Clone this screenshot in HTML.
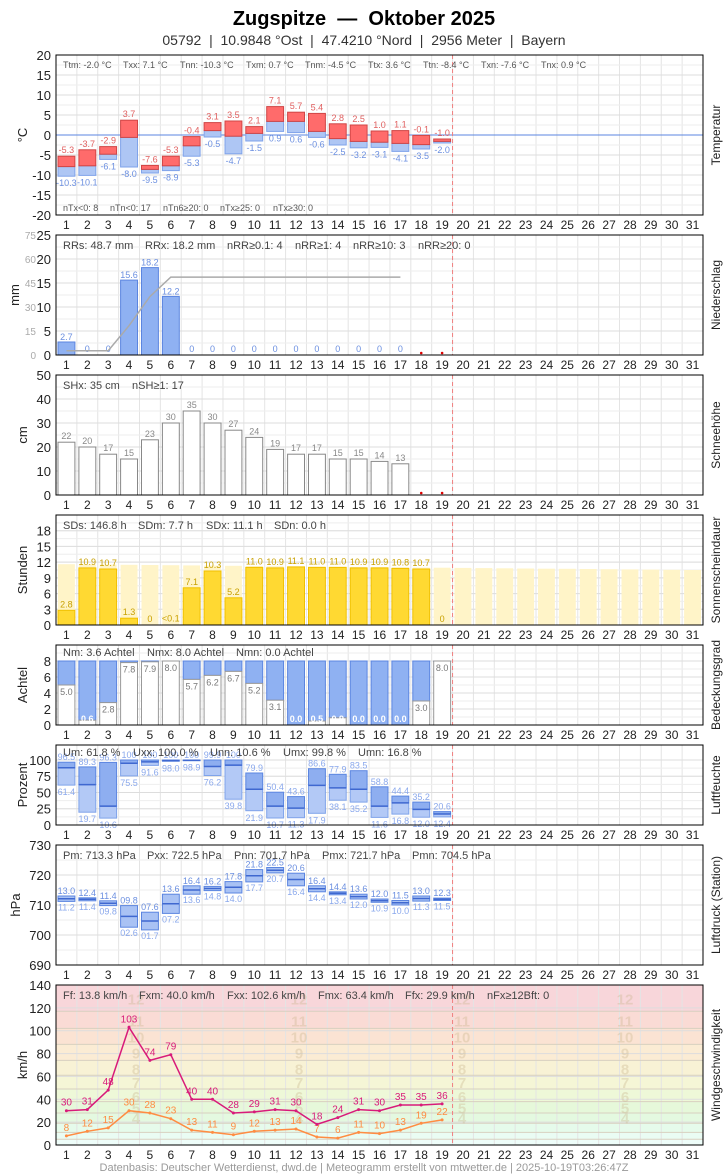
<!DOCTYPE html>
<html><head><meta charset="utf-8">
<style>
html,body{margin:0;padding:0;background:#fff;}
svg{display:block;font-family:"Liberation Sans",sans-serif;}
</style></head>
<body>
<svg id="c" width="728" height="1175" xmlns="http://www.w3.org/2000/svg">
<text x="364" y="25" text-anchor="middle" font-size="20" font-weight="bold" fill="#000">Zugspitze&#160;&#160;—&#160;&#160;Oktober 2025</text>
<text x="364" y="45" text-anchor="middle" font-size="14" fill="#333">05792&#160;&#160;|&#160;&#160;10.9848 °Ost&#160;&#160;|&#160;&#160;47.4210 °Nord&#160;&#160;|&#160;&#160;2956 Meter&#160;&#160;|&#160;&#160;Bayern</text>
<g id="g"></g>
<g font-size="9" fill="#555">
<text x="63" y="68">Ttm: -2.0 °C</text><text x="123" y="68">Txx: 7.1 °C</text><text x="180" y="68">Tnn: -10.3 °C</text><text x="246" y="68">Txm: 0.7 °C</text><text x="305" y="68">Tnm: -4.5 °C</text><text x="368" y="68">Ttx: 3.6 °C</text><text x="423" y="68">Ttn: -8.4 °C</text><text x="481" y="68">Txn: -7.6 °C</text><text x="541" y="68">Tnx: 0.9 °C</text>
<text x="63" y="211">nTx&lt;0: 8</text><text x="110" y="211">nTn&lt;0: 17</text><text x="163" y="211">nTn6≥20: 0</text><text x="220" y="211">nTx≥25: 0</text><text x="273" y="211">nTx≥30: 0</text>
</g>
<g font-size="11" fill="#444">
<text x="63" y="249">RRs: 48.7 mm</text><text x="145" y="249">RRx: 18.2 mm</text><text x="227" y="249">nRR≥0.1: 4</text><text x="295" y="249">nRR≥1: 4</text><text x="353" y="249">nRR≥10: 3</text><text x="418" y="249">nRR≥20: 0</text>
<text x="63" y="389">SHx: 35 cm</text><text x="132" y="389">nSH≥1: 17</text>
<text x="63" y="529">SDs: 146.8 h</text><text x="138" y="529">SDm: 7.7 h</text><text x="206" y="529">SDx: 11.1 h</text><text x="274" y="529">SDn: 0.0 h</text>
<text x="63" y="656">Nm: 3.6 Achtel</text><text x="147" y="656">Nmx: 8.0 Achtel</text><text x="236" y="656">Nmn: 0.0 Achtel</text>
<text x="63" y="756">Um: 61.8 %</text><text x="133" y="756">Uxx: 100.0 %</text><text x="210" y="756">Unn: 10.6 %</text><text x="283" y="756">Umx: 99.8 %</text><text x="358" y="756">Umn: 16.8 %</text>
<text x="63" y="859">Pm: 713.3 hPa</text><text x="147" y="859">Pxx: 722.5 hPa</text><text x="234" y="859">Pnn: 701.7 hPa</text><text x="322" y="859">Pmx: 721.7 hPa</text><text x="412" y="859">Pmn: 704.5 hPa</text>
<text x="63" y="999">Ff: 13.8 km/h</text><text x="139" y="999">Fxm: 40.0 km/h</text><text x="227" y="999">Fxx: 102.6 km/h</text><text x="318" y="999">Fmx: 63.4 km/h</text><text x="405" y="999">Ffx: 29.9 km/h</text><text x="487" y="999">nFx≥12Bft: 0</text>
</g>
<g font-size="13" fill="#222">
<text transform="translate(27,135) rotate(-90)" text-anchor="middle">°C</text>
<text transform="translate(19,295) rotate(-90)" text-anchor="middle">mm</text>
<text transform="translate(27,435) rotate(-90)" text-anchor="middle">cm</text>
<text transform="translate(27,570) rotate(-90)" text-anchor="middle">Stunden</text>
<text transform="translate(27,685) rotate(-90)" text-anchor="middle">Achtel</text>
<text transform="translate(27,785) rotate(-90)" text-anchor="middle">Prozent</text>
<text transform="translate(20,905) rotate(-90)" text-anchor="middle">hPa</text>
<text transform="translate(27,1065) rotate(-90)" text-anchor="middle">km/h</text>
<g font-size="12">
<text transform="translate(720,135) rotate(-90)" text-anchor="middle">Temperatur</text>
<text transform="translate(720,295) rotate(-90)" text-anchor="middle">Niederschlag</text>
<text transform="translate(720,435) rotate(-90)" text-anchor="middle">Schneehöhe</text>
<text transform="translate(720,570) rotate(-90)" text-anchor="middle">Sonnenscheindauer</text>
<text transform="translate(720,685) rotate(-90)" text-anchor="middle">Bedeckungsgrad</text>
<text transform="translate(720,785) rotate(-90)" text-anchor="middle">Luftfeuchte</text>
<text transform="translate(720,905) rotate(-90)" text-anchor="middle">Luftdruck (Station)</text>
<text transform="translate(720,1065) rotate(-90)" text-anchor="middle">Windgeschwindigkeit</text>
</g></g>
<text x="364" y="1171" text-anchor="middle" font-size="11" fill="#999">Datenbasis: Deutscher Wetterdienst, dwd.de | Meteogramm erstellt von mtwetter.de | 2025-10-19T03:26:47Z</text>
</svg>
<script>
var X0=56,W=647,DW=W/31,s='';
function R(x,y,w,h,f,st,sw){if(h<0){y+=h;h=-h;}s+='<rect x="'+x.toFixed(1)+'" y="'+y.toFixed(1)+'" width="'+w.toFixed(1)+'" height="'+Math.max(h,0.5).toFixed(1)+'" fill="'+f+'" stroke="'+(st||'none')+'" stroke-width="'+(sw||1)+'"/>';}
function L(x1,y1,x2,y2,c,w,d){s+='<line x1="'+x1+'" y1="'+y1+'" x2="'+x2+'" y2="'+y2+'" stroke="'+c+'" stroke-width="'+(w||1)+'"'+(d?' stroke-dasharray="'+d+'"':'')+'/>';}
function T(x,y,t,c,fs,a,fw){s+='<text x="'+x.toFixed(1)+'" y="'+y.toFixed(1)+'" fill="'+c+'" font-size="'+fs+'" text-anchor="'+(a||'middle')+'"'+(fw?' font-weight="bold"':'')+'>'+t+'</text>';}
function cx(i){return X0+(i+0.5)*DW;}
function bl(i){return X0+i*DW+2;}
var BW=DW-4;
function P(top,bot,mn,mx){return {top:top,bot:bot,mn:mn,mx:mx,y:function(v){return bot-(v-mn)/(mx-mn)*(bot-top);}};}
function frame(p,ticks,minor,labels){
  for(var i=0;i<=31;i++)L(X0+i*DW,p.top,X0+i*DW,p.bot,'#e4e4e4',1);
  minor.forEach(function(v){L(X0,p.y(v),X0+W,p.y(v),'#eeeeee',1);});
  ticks.forEach(function(v){L(X0,p.y(v),X0+W,p.y(v),'#dddddd',1);T(51,p.y(v)+5,v,'#222',13,'end');});
  if(labels!==false)for(var i=0;i<31;i++)T(cx(i),p.bot+14,i+1,'#222',12);
}
function box(p){L(X0+19*DW,p.top,X0+19*DW,p.bot,'#f08080',1,'4,3');s+='<rect x="'+X0+'" y="'+p.top+'" width="'+W+'" height="'+(p.bot-p.top)+'" fill="none" stroke="#000" stroke-width="1"/>';}
function rng(a,b,st){var r=[];for(var v=a;v<=b+1e-9;v+=st)r.push(Math.round(v*100)/100);return r;}
var p=P(55,215,-20,20);frame(p,rng(-20,20,5),rng(-20,20,2.5));
var tx=[-5.3,-3.7,-2.9,3.7,-7.6,-5.3,-0.4,3.1,3.5,2.1,7.1,5.7,5.4,2.8,2.5,1.0,1.1,-0.1,-1.0];
var tn=[-10.3,-10.1,-6.1,-8.0,-9.5,-8.9,-5.3,-0.5,-4.7,-1.5,0.9,0.6,-0.6,-2.5,-3.2,-3.1,-4.1,-3.5,-2.0];
var tm=[-7.9,-7.7,-4.8,-0.6,-8.6,-7.7,-2.7,1.1,-0.3,0.4,3.4,3.4,0.9,-0.9,-1.6,-1.8,-2.1,-2.4,-1.6];
L(X0,p.y(0),X0+W,p.y(0),'#5b86e0',1);
for(var i=0;i<19;i++){R(bl(i),p.y(tm[i]),BW,p.y(tn[i])-p.y(tm[i]),'#aec6f4','#7fa3ea');R(bl(i),p.y(tx[i]),BW,p.y(tm[i])-p.y(tx[i]),'#ff6b6b','#d04545');
T(cx(i),p.y(tx[i])-3,tx[i].toFixed(1),'#e06060',9);T(cx(i),p.y(tn[i])+10,tn[i].toFixed(1),'#6b8fe0',9);}
box(p);
p=P(235,355,0,25);frame(p,rng(0,25,5),rng(0,25,2.5));
[0,15,30,45,60,75].forEach(function(v){T(36,p.y(v/3)+4,v,'#aaa',10,'end');});
var rr=[2.7,0,0,15.6,18.2,12.2,0,0,0,0,0,0,0,0,0,0,0];
var cum=0,pts=[];
for(var i=0;i<17;i++){cum+=rr[i];pts.push(cx(i).toFixed(1)+','+p.y(cum/3).toFixed(1));
 if(rr[i]>0)R(bl(i),p.y(rr[i]),BW,p.bot-p.y(rr[i]),'#8fb1f2','#5b85e0');
 T(cx(i),(rr[i]>0?p.y(rr[i])-2:p.bot-3),rr[i]==0?'0':rr[i].toFixed(1),'#6b8fe0',9);}
s+='<polyline points="'+pts.join(' ')+'" fill="none" stroke="#aaa" stroke-width="1.5"/>';
s+='<circle cx="'+cx(17)+'" cy="353" r="1.3" fill="#d00"/><circle cx="'+cx(18)+'" cy="353" r="1.3" fill="#d00"/>';
box(p);
p=P(375,495,0,50);frame(p,rng(0,50,10),rng(0,50,5));
var sh=[22,20,17,15,23,30,35,30,27,24,19,17,17,15,15,14,13];
for(var i=0;i<17;i++){R(bl(i),p.y(sh[i]),BW,p.bot-p.y(sh[i]),'#fff','#888');T(cx(i),p.y(sh[i])-3,sh[i],'#888',9);}
s+='<circle cx="'+cx(17)+'" cy="493" r="1.3" fill="#d00"/><circle cx="'+cx(18)+'" cy="493" r="1.3" fill="#d00"/>';
box(p);
p=P(515,625,0,21);frame(p,rng(0,18,3),rng(0,21,1.5));
for(var i=0;i<31;i++){var h=11.6-i*1.1/30;R(bl(i),p.y(h),BW,p.bot-p.y(h),'#fff4c8');}
var sd=[2.8,10.9,10.7,1.3,0,0.05,7.1,10.3,5.2,11.0,10.9,11.1,11.0,11.0,10.9,10.9,10.8,10.7,0];
for(var i=0;i<19;i++){if(sd[i]>0.06)R(bl(i),p.y(sd[i]),BW,p.bot-p.y(sd[i]),'#ffd932','#f0c000');
T(cx(i),p.y(sd[i])-3,i==5?'&lt;0.1':(sd[i]==0?'0':sd[i].toFixed(1)),'#c8a000',9);}
box(p);
p=P(645,725,0,10);frame(p,rng(0,8,2),rng(0,10,1));
var nn=[5.0,0.6,2.8,7.8,7.9,8.0,5.7,6.2,6.7,5.2,3.1,0.0,0.5,0.9,0.0,0.0,0.0,3.0,8.0];
for(var i=0;i<19;i++){R(bl(i),p.y(8),BW,p.y(nn[i])-p.y(8),'#8fb1f2','#5b85e0');if(nn[i]>0)R(bl(i),p.y(nn[i]),BW,p.bot-p.y(nn[i]),'#fff','#999');
if(nn[i]<1)T(cx(i),p.bot-3,nn[i].toFixed(1),'#fff',9,'middle',1);else T(cx(i),p.y(nn[i])+10,nn[i].toFixed(1),'#777',9);}
box(p);
p=P(745,825,0,123);frame(p,rng(0,100,25),rng(0,100,12.5));
var ux=[96.5,89.3,96.3,100,100,100,100,99.9,100,79.9,50.4,43.6,86.6,77.9,83.5,58.8,44.4,35.2,20.6];
var un=[61.4,19.7,10.6,75.5,91.6,98.0,98.9,76.2,39.8,21.9,10.7,11.3,17.9,38.1,35.2,11.6,16.8,12.0,12.4];
var um=[88,62,29,95,97,99,99.5,90,92,55,29,26,61,57,55,29,34,24,17];
for(var i=0;i<19;i++){R(bl(i),p.y(um[i]),BW,p.y(un[i])-p.y(um[i]),'#b3c9f6','#7fa3ea');R(bl(i),p.y(ux[i]),BW,p.y(um[i])-p.y(ux[i]),'#8eaef0','#5b85e0');
L(bl(i),p.y(um[i]),bl(i)+BW,p.y(um[i]),'#3f68d0',1.5);
T(cx(i),p.y(ux[i])-2,ux[i]==100?'100':ux[i].toFixed(1),'#8aa8ec',9);T(cx(i),p.y(un[i])+10,un[i].toFixed(1),'#8aa8ec',9);}
box(p);
p=P(845,965,690,730);frame(p,rng(690,730,10),rng(690,730,5));
var px=[13.0,12.4,11.4,9.8,7.6,13.6,16.4,16.2,17.8,21.8,22.5,20.6,16.4,14.4,13.6,12.0,11.5,13.0,12.3];
var pn=[11.2,11.4,9.8,2.6,1.7,7.2,13.6,14.8,14.0,17.7,20.7,16.4,14.4,13.4,12.0,10.9,10.0,11.3,11.5];
for(var i=0;i<19;i++){var a=700+px[i],b=700+pn[i],m=(a+b)/2;R(bl(i),p.y(a),BW,p.y(b)-p.y(a),'#a9c2f4','#5b85e0');L(bl(i),p.y(m),bl(i)+BW,p.y(m),'#3f68d0',1.5);
T(cx(i),p.y(a)-2,(px[i]<10?'0':'')+px[i].toFixed(1),'#6b8fe0',9);T(cx(i),p.y(b)+9,(pn[i]<10?'0':'')+pn[i].toFixed(1),'#8aa8ec',9);}
box(p);
p=P(985,1145,0,140);
var bd=[0,5,11,19,28,38,49,61,74,88,102,117,140],bc=['#eefdf9','#eafcf3','#e6fbeb','#e4f9e0','#e6f8da','#eef8d8','#f5f6d6','#f8f2d5','#fbecd4','#fbe3d3','#fadbd5','#f8d6da'];
for(var k=0;k<12;k++)R(X0,p.y(bd[k+1]),W,p.y(bd[k])-p.y(bd[k+1]),bc[k]);
frame(p,rng(0,140,20),[]);
for(var k=1;k<12;k++)L(X0,p.y(bd[k]),X0+W,p.y(bd[k]),'#d8d0c0',1);
var bn=[[24,4],[33,5],[43,6],[55,7],[67,8],[81,9],[95,10],[109,11],[128,12]];
[136,299,462,625].forEach(function(x){bn.forEach(function(q){T(x,p.y(q[0])+6,q[1],'rgba(200,180,140,0.35)',15,'middle',1);});});
var fx=[30,31,48,103,74,79,40,40,28,29,31,30,18,24,31,30,35,35,36],ff=[8,12,15,30,28,23,13,11,9,12,13,14,7,6,11,10,13,19,22];
function ln(d,c){var q=[];for(var i=0;i<19;i++){q.push(cx(i).toFixed(1)+','+p.y(d[i]).toFixed(1));s+='<circle cx="'+cx(i).toFixed(1)+'" cy="'+p.y(d[i]).toFixed(1)+'" r="1.5" fill="'+c+'"/>';T(cx(i),p.y(d[i])-5,d[i],c,10);}
s+='<polyline points="'+q.join(' ')+'" fill="none" stroke="'+c+'" stroke-width="1.5"/>';}
ln(ff,'#ff8c42');ln(fx,'#d81b7a');
box(p);
document.getElementById('g').innerHTML=s;
</script>
</body></html>
